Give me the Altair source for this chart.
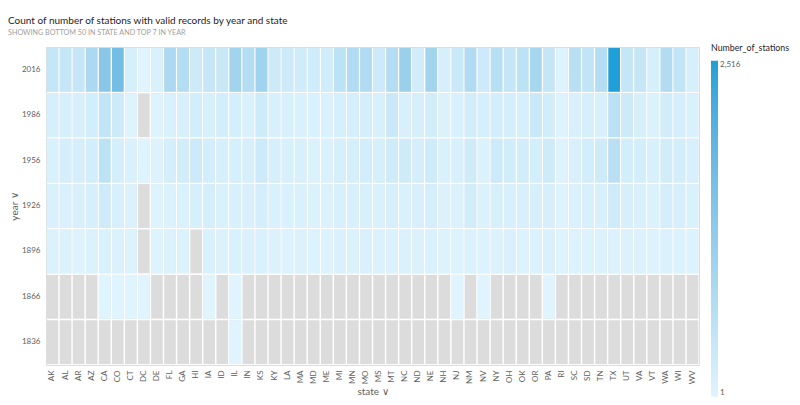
import altair as alt
import pandas as pd

states = ["AK", "AL", "AR", "AZ", "CA", "CO", "CT", "DC", "DE", "FL",
          "GA", "HI", "IA", "ID", "IL", "IN", "KS", "KY", "LA", "MA",
          "MD", "ME", "MI", "MN", "MO", "MS", "MT", "NC", "ND", "NE",
          "NH", "NJ", "NM", "NV", "NY", "OH", "OK", "OR", "PA", "RI",
          "SC", "SD", "TN", "TX", "UT", "VA", "VT", "WA", "WI", "WV"]
years = ["2016", "1986", "1956", "1926", "1896", "1866", "1836"]

v2016 = [420, 420, 420, 810, 1340, 1640, 160, 5, 100, 800,
         690, 290, 420, 360, 950, 690, 1000, 290, 290, 250,
         250, 250, 550, 750, 750, 300, 680, 1080, 230, 950,
         160, 350, 750, 300, 630, 420, 550, 880, 420, 30,
         620, 480, 680, 2516, 430, 430, 160, 720, 480, 160]
v1986 = [160, 160, 150, 200, 480, 290, 40, None, 30, 100,
         130, 200, 160, 200, 180, 100, 280, 130, 130, 100,
         90, 100, 140, 180, 180, 130, 340, 110, 160, 210,
         60, 100, 210, 140, 200, 180, 160, 340, 210, 40,
         110, 160, 110, 580, 290, 160, 70, 210, 180, 100]
v1956 = [100, 180, 180, 200, 550, 180, 100, 40, 50, 180,
         210, 300, 200, 140, 160, 140, 300, 140, 130, 110,
         70, 100, 160, 180, 200, 160, 270, 270, 180, 270,
         100, 130, 260, 70, 300, 210, 210, 190, 270, 40,
         130, 200, 280, 620, 190, 190, 110, 210, 190, 130]
v1926 = [90, 90, 120, 150, 280, 130, 70, None, 40, 60,
         100, 150, 170, 100, 110, 120, 170, 100, 100, 100,
         70, 60, 120, 110, 130, 100, 150, 90, 130, 170,
         60, 70, 210, 70, 150, 130, 130, 150, 150, 40,
         100, 130, 110, 280, 150, 110, 70, 170, 150, 100]
v1896 = [60, 60, 50, 70, 90, 70, 50, None, 40, 60,
         70, None, 90, 60, 90, 80, 90, 60, 50, 70,
         50, 50, 80, 60, 80, 60, 60, 70, 60, 90,
         50, 50, 60, 50, 70, 80, 50, 60, 90, 40,
         50, 50, 60, 70, 60, 60, 50, 70, 60, 50]
v1866 = {"CA": 15, "CO": 5, "CT": 10, "DC": 3, "IA": 3, "IL": 5,
         "NJ": 5, "NV": 5, "PA": 5}
v1836 = {"IL": 2}

series = [v2016, v1986, v1956, v1926, v1896,
          [v1866.get(s) for s in states], [v1836.get(s) for s in states]]

rows = []
for yr, vals in zip(years, series):
    for s, v in zip(states, vals):
        rows.append({"state": s, "year": yr, "n": v})
df = pd.DataFrame(rows)

FONT = "Segoe UI, Lato, sans-serif"

xenc = alt.X("state:N", sort=states,
             scale=alt.Scale(paddingInner=0.11, paddingOuter=0.05),
             axis=alt.Axis(title="state ∨", labelAngle=270, labelFontSize=8,
                           labelColor="#605e5c", ticks=False, domain=False,
                           labelPadding=5, titleFontSize=10, titleFontWeight="normal",
                           titleColor="#605e5c", titlePadding=3, labelFont=FONT,
                           titleFont=FONT))
yenc = alt.Y("year:N", sort=years,
             scale=alt.Scale(paddingInner=0.035, paddingOuter=0.02),
             axis=alt.Axis(title="year ∨", labelFontSize=8, labelColor="#605e5c",
                           ticks=False, domain=False, labelPadding=6,
                           titleFontSize=10, titleFontWeight="normal",
                           titleColor="#605e5c", titlePadding=2, labelFont=FONT,
                           titleFont=FONT))

bg = alt.Chart(df).mark_rect(color="#dcdcdc").encode(x=xenc, y=yenc)
fg = alt.Chart(df).transform_filter("isValid(datum.n)").mark_rect().encode(
    x=xenc, y=yenc,
    color=alt.Color("n:Q",
                    scale=alt.Scale(domain=[1, 2516], range=["#dff4fe", "#1fa0d8"]),
                    legend=alt.Legend(title="Number_of_stations", orient="none",
                                      legendX=665, legendY=-3, gradientLength=336,
                                      gradientThickness=7, values=[1, 2516],
                                      labelExpr="format(datum.value, ',')",
                                      labelFontSize=8,
                                      labelColor="#605e5c", titleFontSize=8.8,
                                      titleFontWeight="normal", titleColor="#252423",
                                      direction="vertical", titlePadding=8,
                                      titleLimit=200,
                                      gradientStrokeWidth=0, labelFont=FONT,
                                      titleFont=FONT, labelOffset=2)),
    tooltip=["state", "year", "n"])

chart = alt.layer(bg, fg).properties(
    width=653, height=318,
    autosize=alt.AutoSizeParams(type="none"),
    padding={"left": 38, "top": 39, "right": 93, "bottom": 32},
    title=alt.TitleParams(
        text="Count of number of stations with valid records by year and state",
        subtitle="SHOWING BOTTOM 50 IN STATE AND TOP 7 IN YEAR",
        anchor="start", frame="group", dx=-38, offset=8,
        fontSize=10, font=FONT, fontWeight="normal", color="#252423",
        subtitleFontSize=7.2, subtitleFont=FONT, subtitleColor="#a0a0a0",
        subtitlePadding=3),
).configure_view(stroke=None).configure(background="white")

chart.save("out.html", embed_options={"renderer": "svg", "actions": False})
